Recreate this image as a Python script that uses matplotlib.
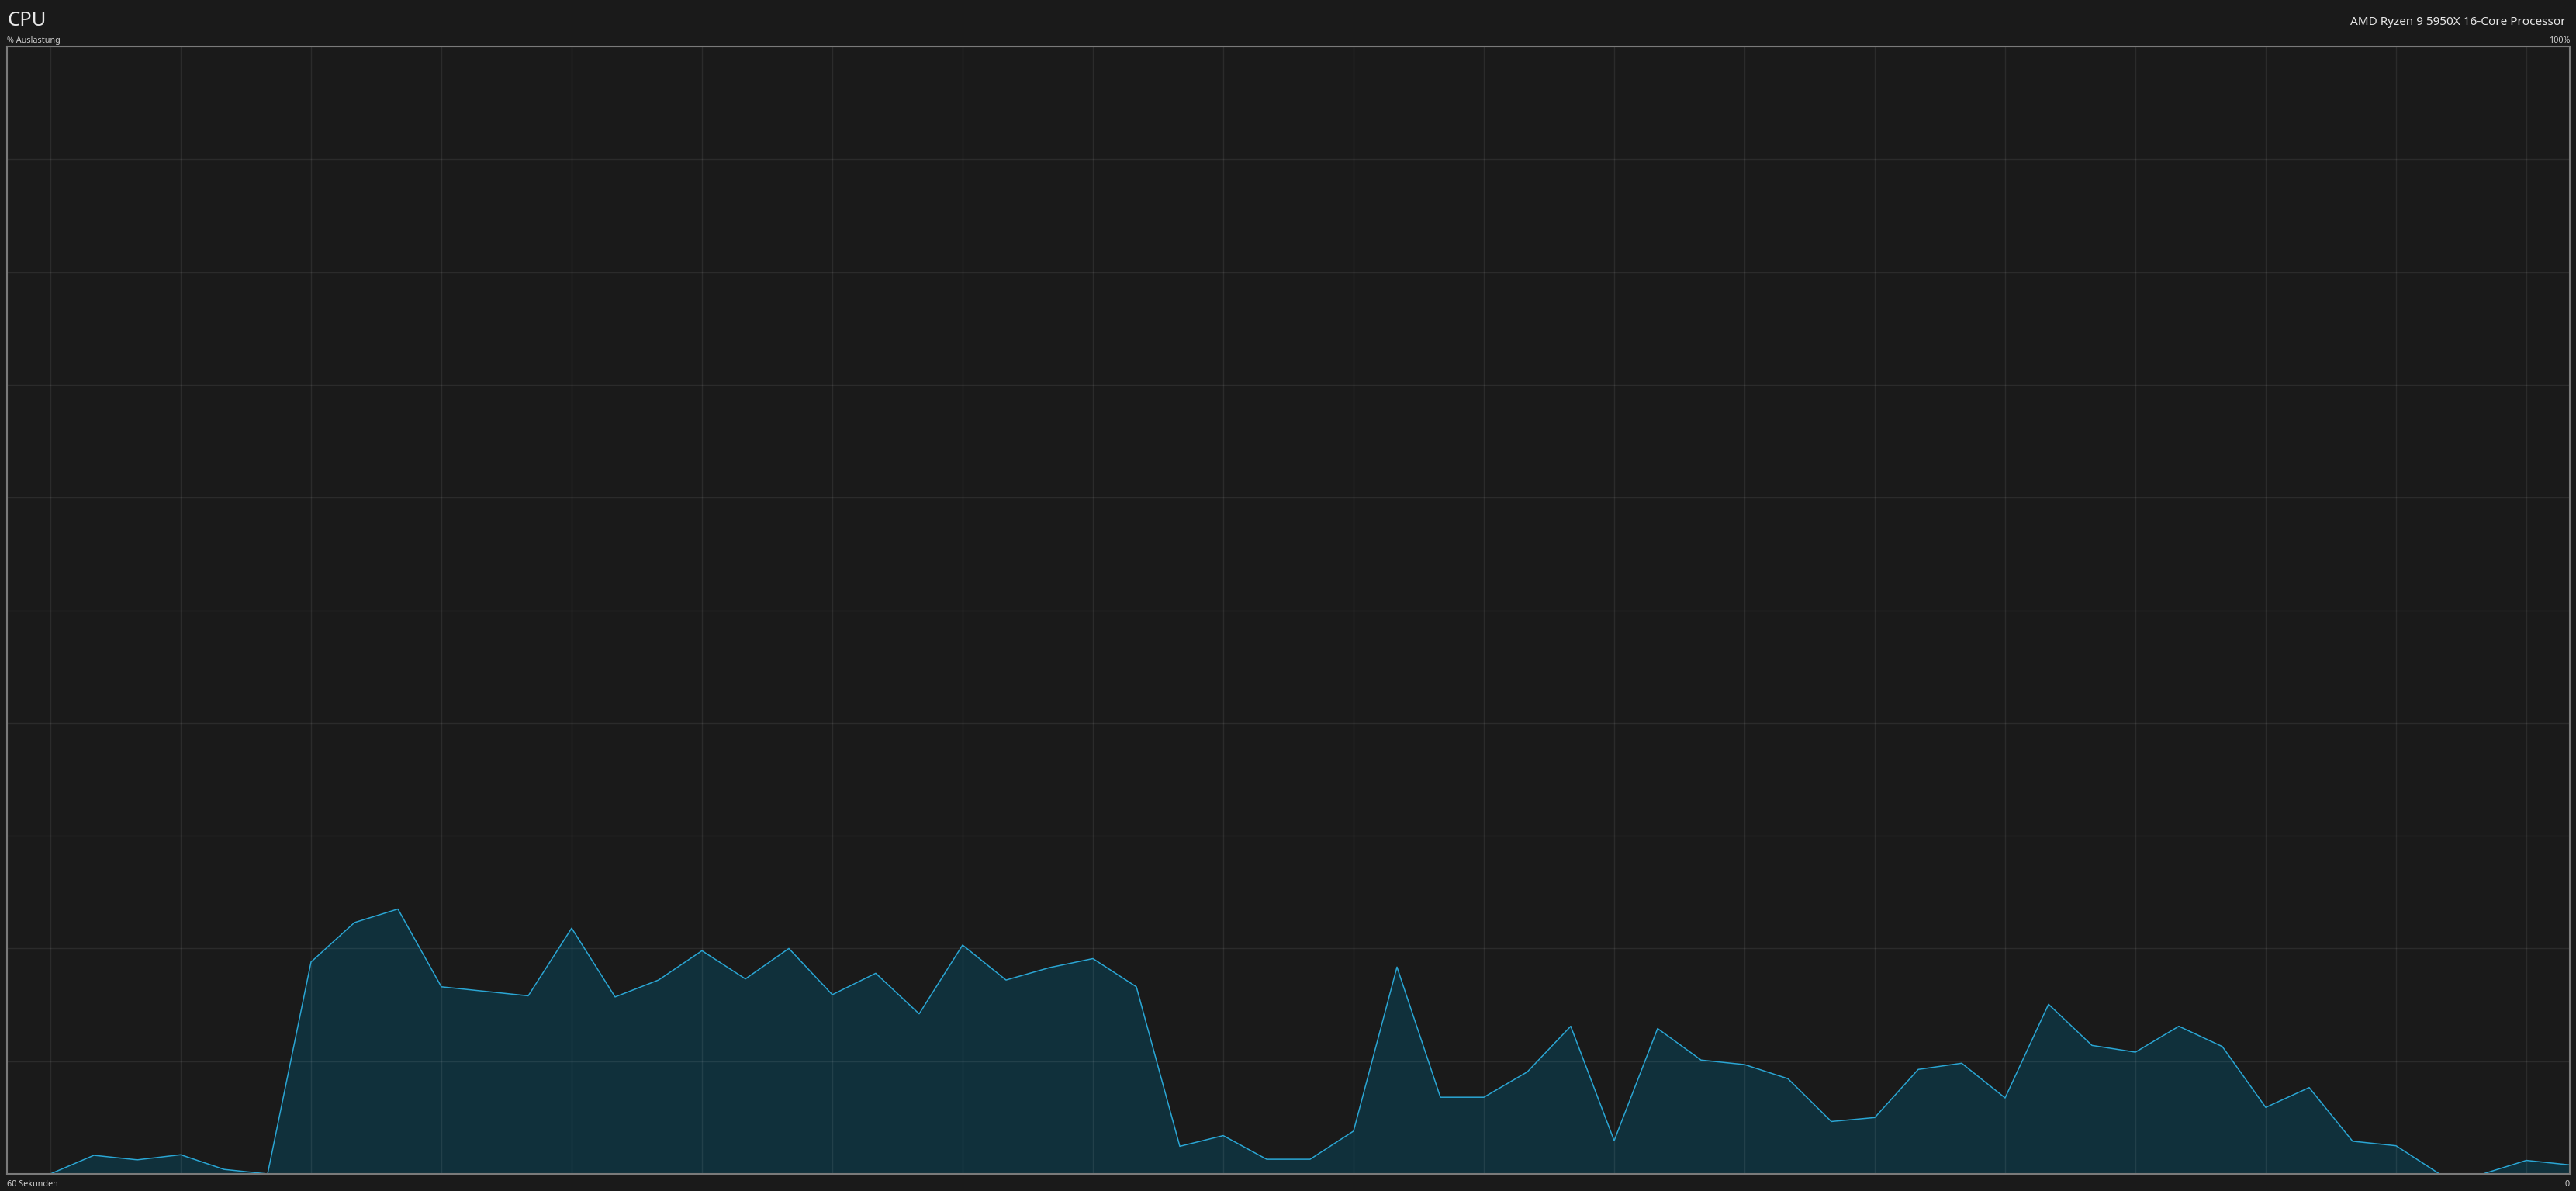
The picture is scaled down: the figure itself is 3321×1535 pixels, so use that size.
import matplotlib
matplotlib.use("Agg")
import matplotlib.pyplot as plt
import numpy as np

# CPU usage over the last 60 seconds (one sample per second)
seconds = list(range(60))
cpu = [0, 0, 1.65, 1.25, 1.7, 0.4, 0,
       18.8, 22.3, 23.5, 16.6, 16.2, 15.8, 21.8, 15.7, 17.2, 19.8,
       17.3, 20.0, 15.9, 17.8, 14.2, 20.3, 17.2, 18.3, 19.1, 16.6,
       2.45, 3.4, 1.3, 1.3, 3.8, 18.35, 6.8, 6.8, 9.05, 13.1,
       2.95, 12.9, 10.1, 9.7,
       8.45, 4.65, 5.0, 9.27, 9.82, 6.74, 15.05, 11.4, 10.8, 13.1,
       11.3, 5.9, 7.66, 2.9,
       2.5, 0, 0, 1.2, 0.8]

title = "CPU"
cpu_name = "AMD Ryzen 9 5950X 16-Core Processor"
y_label = "% Auslastung"
y_max_label = "100%"
x_left_label = "60 Sekunden"
x_right_label = "0"

bg = "#1a1a1a"
txt = "#e8e8e8"
plt.rcParams['font.family'] = ['Noto Sans', 'DejaVu Sans']

fig = plt.figure(figsize=(33.21, 15.35), dpi=100, facecolor=bg)
ax = fig.add_axes([9 / 3321, 1 - 1513 / 1535, 3304 / 3321, 1453 / 1535])
ax.set_facecolor(bg)

ax.fill_between(seconds, cpu, 0, color="#10303b", zorder=1, linewidth=0)
ax.plot(seconds, cpu, color="#2aa6d4", linewidth=1.1, zorder=3)

ax.set_xlim(0, 59)
ax.set_ylim(0, 100)
ax.set_xticks(np.arange(1, 60, 3))
ax.set_yticks(np.arange(0, 101, 10))
ax.grid(True, color="white", alpha=0.08, linewidth=1.0, zorder=2)
ax.set_axisbelow(False)
ax.tick_params(length=0, labelbottom=False, labelleft=False)
for s in ax.spines.values():
    s.set_color("#7a7a7a")
    s.set_linewidth(1.5)
    s.set_zorder(4)

# header and axis texts
fig.text(9 / 3321, 1 - 33 / 1535, title, color=txt, fontsize=18.5,
         ha="left", va="baseline")
fig.text(3308 / 3321, 1 - 32 / 1535, cpu_name, color=txt, fontsize=11,
         ha="right", va="baseline")
fig.text(9 / 3321, 1 - 55 / 1535, y_label, color="#cfcfcf", fontsize=7.8,
         ha="left", va="baseline")
fig.text(3313 / 3321, 1 - 55 / 1535, y_max_label, color="#cfcfcf", fontsize=7.8,
         ha="right", va="baseline")
fig.text(9 / 3321, 1 - 1529 / 1535, x_left_label, color="#cfcfcf", fontsize=7.8,
         ha="left", va="baseline")
fig.text(3313 / 3321, 1 - 1529 / 1535, x_right_label, color="#cfcfcf", fontsize=7.8,
         ha="right", va="baseline")

fig.savefig("out.png", dpi=100, facecolor=bg)
